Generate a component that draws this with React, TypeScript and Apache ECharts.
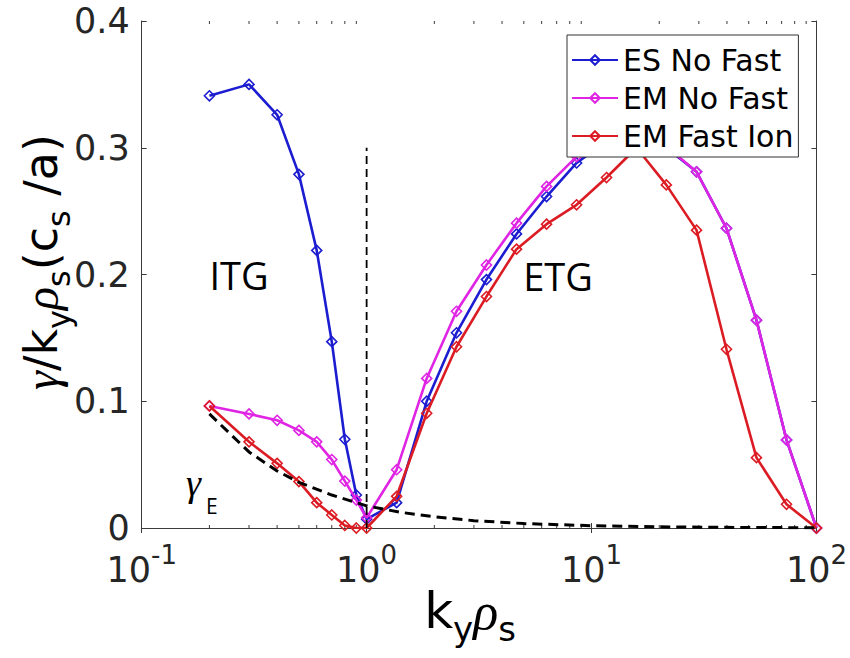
import React, { useEffect, useRef } from "react";
import * as echarts from "echarts";

// k_y rho_s sample points (log-spaced on the ETG side)
const kValues = [0.2, 0.3, 0.4, 0.5, 0.6, 0.7, 0.8, 0.9, 1, 1.36, 1.85, 2.51, 3.41, 4.64, 6.31, 8.58, 11.66, 15.85, 21.5, 29.3, 39.8, 54.1, 73.6, 100];
const esNoFast = [0.341, 0.35, 0.326, 0.279, 0.219, 0.147, 0.07, 0.026, 0.007, 0.02, 0.1, 0.154, 0.196, 0.232, 0.2615, 0.288, 0.305, 0.312, 0.3, 0.281, 0.2365, 0.164, 0.0695, 0];
const emNoFast = [0.0963, 0.09, 0.085, 0.077, 0.068, 0.054, 0.037, 0.022, 0.008, 0.046, 0.118, 0.171, 0.2075, 0.2405, 0.2695, 0.293, 0.31, 0.316, 0.301, 0.281, 0.2365, 0.164, 0.0695, 0];
const emFastIon = [0.0963, 0.068, 0.051, 0.0366, 0.02, 0.0103, 0.002, 0, 0, 0.025, 0.0905, 0.143, 0.1826, 0.22, 0.2397, 0.255, 0.2765, 0.3, 0.2707, 0.235, 0.141, 0.0555, 0.0187, 0];

// gamma_E (ExB shear rate) dashed curve
const gammaEk = [0.2, 0.3, 0.4, 0.5, 0.7, 1, 1.4, 2, 3, 5, 10, 20, 50, 100];
const gammaEv = [0.09, 0.06, 0.045, 0.036, 0.026, 0.0175, 0.0125, 0.0088, 0.0058, 0.0035, 0.0018, 0.0009, 0.0004, 0.0002];

// vertical separator at k_y rho_s = 1
const sepK = [1, 1];
const sepV = [0, 0.3];

const seriesNames = ["ES No Fast", "EM No Fast", "EM Fast Ion"];
const seriesColors = ["#1c1cd0", "#e024e4", "#dc1c24"];
const yTicks = [0, 0.1, 0.2, 0.3, 0.4];
const xMinorTicks = [0.2, 0.3, 0.4, 0.5, 0.6, 0.7, 0.8, 0.9, 2, 3, 4, 5, 6, 7, 8, 9, 20, 30, 40, 50, 60, 70, 80, 90];

const FONT = "DejaVu Sans";
const ANNOT_FONT = "Open Sans";
const GREEK = "Liberation Serif";
const AXIS_COLOR = "#3a3a3a";
const TEXT_COLOR = "#262626";

export default function App() {
  const ref = useRef<HTMLDivElement>(null);
  useEffect(() => {
    if (!ref.current) return;
    const chart = echarts.init(ref.current, undefined, { renderer: "svg" });
    const pair = (xs: number[], ys: number[]) => xs.map((x, i) => [x, ys[i]]);
    const lineSeries = [esNoFast, emNoFast, emFastIon].map((vals, i) => ({
      name: seriesNames[i],
      type: "line",
      data: pair(kValues, vals),
      symbol: "diamond",
      symbolSize: 10,
      showSymbol: true,
      lineStyle: { color: seriesColors[i], width: 2.6 },
      itemStyle: { color: "rgba(255,255,255,0)", borderColor: seriesColors[i], borderWidth: 1.6 },
      z: 3 + i,
    }));
    const tickStyle = { show: true, inside: true, length: 5, lineStyle: { color: AXIS_COLOR, width: 1 } };
    const axisLineStyle = { show: true, lineStyle: { color: AXIS_COLOR, width: 1 } };
    chart.setOption({
      animation: false,
      grid: { left: 141.7, right: 32.4, top: 21, bottom: 130, containLabel: false },
      xAxis: [
        {
          type: "log",
          logBase: 10,
          min: 0.1,
          max: 100,
          axisLine: axisLineStyle,
          axisTick: tickStyle,
          splitLine: { show: false },
          axisLabel: {
            margin: 14,
            formatter: (v: number) => {
              const e = Math.round(Math.log10(v));
              return `{b|10}{s|${e < 0 ? "-" : ""}${Math.abs(e)}}`;
            },
            rich: {
              b: { fontSize: 35, fontFamily: FONT, color: TEXT_COLOR, lineHeight: 56 },
              s: { fontSize: 26, fontFamily: FONT, color: TEXT_COLOR, lineHeight: 26, verticalAlign: "top" },
            },
          },
        },
        {
          type: "log",
          logBase: 10,
          min: 0.1,
          max: 100,
          position: "top",
          axisLine: axisLineStyle,
          axisTick: tickStyle,
          axisLabel: { show: false },
          splitLine: { show: false },
        },
      ],
      yAxis: [
        {
          type: "value",
          min: 0,
          max: 0.4,
          interval: 0.1,
          axisLine: axisLineStyle,
          axisTick: tickStyle,
          splitLine: { show: false },
          axisLabel: { fontSize: 35, fontFamily: FONT, color: TEXT_COLOR, margin: 12, lineHeight: 28 },
        },
        {
          type: "value",
          min: 0,
          max: 0.4,
          interval: 0.1,
          position: "right",
          axisLine: axisLineStyle,
          axisTick: tickStyle,
          axisLabel: { show: false },
          splitLine: { show: false },
        },
      ],
      legend: {
        data: seriesNames,
        orient: "vertical",
        left: 567,
        top: 35,
        backgroundColor: "#ffffff",
        borderColor: "#333333",
        borderWidth: 1,
        borderRadius: 0,
        padding: [10, 5, 6, 4],
        itemGap: 8,
        itemWidth: 46,
        itemHeight: 12,
        textStyle: { fontSize: 30, fontFamily: FONT, color: "#000", lineHeight: 30 },
        z: 10,
      },
      graphic: [
        { type: "text", x: 239, y: 275, style: { text: "ITG", font: `38px "${ANNOT_FONT}"`, fill: "#000", align: "center", verticalAlign: "middle" } },
        { type: "text", x: 558, y: 276, style: { text: "ETG", font: `38px "${ANNOT_FONT}"`, fill: "#000", align: "center", verticalAlign: "middle" } },
        {
          type: "text",
          x: 186,
          y: 450,
          style: {
            text: "{g|γ}{e|E}",
            rich: {
              g: { fontSize: 38, fontFamily: GREEK, fontStyle: "italic", color: "#3a1a24", lineHeight: 66 },
              e: { fontSize: 21, fontFamily: ANNOT_FONT, color: "#111", lineHeight: 21, verticalAlign: "bottom", padding: [0, 0, 0, 5] },
            },
          },
        },
        {
          type: "text",
          x: 41,
          y: 262,
          rotation: Math.PI / 2,
          style: {
            text: "{g|γ}{m|/k}{u|y}{g|ρ}{u|s}{m|(c}{u|s}{m| /a)}",
            align: "center",
            verticalAlign: "middle",
            rich: {
              g: { fontSize: 48, fontFamily: GREEK, fontStyle: "italic", color: TEXT_COLOR, lineHeight: 67 },
              m: { fontSize: 46, fontFamily: FONT, color: TEXT_COLOR, lineHeight: 67 },
              u: { fontSize: 32, fontFamily: FONT, color: TEXT_COLOR, lineHeight: 20, verticalAlign: "bottom" },
            },
          },
        },
        {
          type: "text",
          x: 470,
          y: 611,
          style: {
            text: "{m|k}{u|y}{g|ρ}{u|s}",
            align: "center",
            verticalAlign: "middle",
            rich: {
              g: { fontSize: 52, fontFamily: GREEK, fontStyle: "italic", color: TEXT_COLOR, lineHeight: 70 },
              m: { fontSize: 50, fontFamily: FONT, color: TEXT_COLOR, lineHeight: 70 },
              u: { fontSize: 34, fontFamily: FONT, color: TEXT_COLOR, lineHeight: 20, verticalAlign: "bottom" },
            },
          },
        },
      ],
      series: [
        {
          name: "gammaE",
          type: "line",
          data: pair(gammaEk, gammaEv),
          showSymbol: false,
          symbol: "none",
          lineStyle: { color: "#000", width: 3, type: [10, 6] },
          silent: true,
          z: 6,
        },
        ...lineSeries,
        {
          name: "sep",
          type: "line",
          data: pair(sepK, sepV),
          showSymbol: false,
          symbol: "none",
          lineStyle: { color: "#000", width: 1.8, type: [8, 5] },
          silent: true,
          z: 7,
        },
        {
          name: "minorTicks",
          type: "custom",
          silent: true,
          clip: false,
          data: xMinorTicks.map((v) => [v, 0]),
          encode: { x: 0, y: 1 },
          renderItem: (params: any, api: any) => {
            const x = api.coord([api.value(0), yTicks[0]])[0];
            const yb = api.coord([1, yTicks[0]])[1];
            const yt = api.coord([1, yTicks[yTicks.length - 1]])[1];
            return {
              type: "group",
              children: [
                { type: "line", shape: { x1: x, y1: yb, x2: x, y2: yb - 3 }, style: { stroke: AXIS_COLOR, lineWidth: 1 } },
                { type: "line", shape: { x1: x, y1: yt, x2: x, y2: yt + 3 }, style: { stroke: AXIS_COLOR, lineWidth: 1 } },
              ],
            };
          },
          z: 1,
        },
      ],
    });
    return () => chart.dispose();
  }, []);
  return <div ref={ref} style={{ position: "fixed", left: 0, top: 0, width: 850, height: 658, background: "#fff" }} />;
}
